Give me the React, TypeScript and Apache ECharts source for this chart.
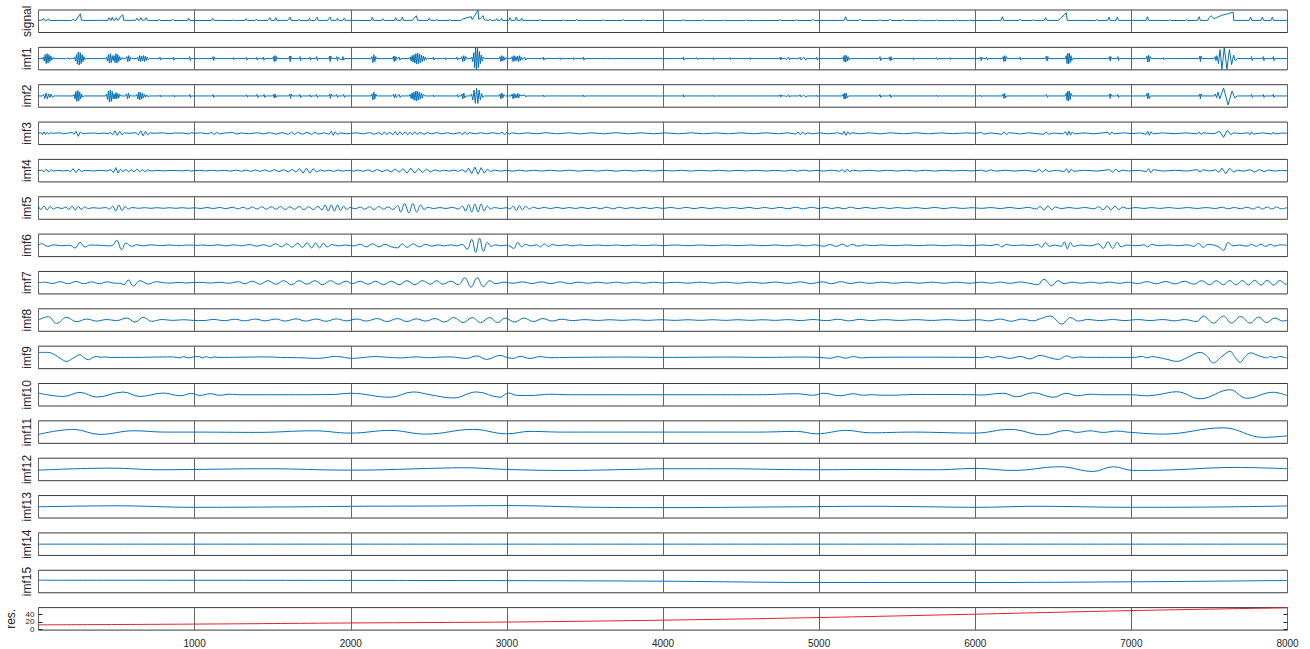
import React, { useEffect, useRef } from 'react';
import * as echarts from 'echarts';

// ---------- labels / ticks ----------
const PANEL_LABELS = ['signal', 'imf1', 'imf2', 'imf3', 'imf4', 'imf5', 'imf6', 'imf7', 'imf8', 'imf9', 'imf10', 'imf11', 'imf12', 'imf13', 'imf14', 'imf15', 'res.'];
const X_TICK_LABELS = [1000, 2000, 3000, 4000, 5000, 6000, 7000, 8000];
const RES_TICKS = [0, 20, 40];

// ---------- series values: flat [x, y, x, y, ...] ----------
const SIGNAL = [
  0,0.3, 22,0.5, 32,2.5, 40,0.3, 56,0.5, 64,2, 72,0.2, 150,0.3, 212,0.2, 222,1.5, 230,0.2, 240,0.5, 268,7, 275,0.5, 300,0.2, 400,0.4, 444,0.2, 452,3, 460,0.5, 466,0.5, 472,3.5, 480,0.5, 490,0.5, 498,3, 506,0.5, 512,0.5, 522,3.5, 540,6, 546,0.5, 580,0.3, 622,0.4, 630,2.5, 638,0.5, 648,0.5, 656,3, 664,0.5, 680,0.5, 690,3, 698,0.3, 766,0.2, 775,1.5, 782,0.2, 852,0.2, 860,1.5, 868,0.2, 954,0.2, 962,2.5, 970,0.2,
  1106,0.2, 1115,2.5, 1123,0.3, 1240,0.2, 1248,0.8, 1255,0.2, 1322,0.2, 1330,2, 1337,0.3, 1388,0.2, 1395,1.5, 1402,0.3, 1468,0.2, 1475,1.5, 1483,3, 1490,0.3, 1512,0.3, 1520,3, 1527,0.3, 1595,0.3, 1603,1.5, 1611,3.5, 1618,0.3, 1664,0.2, 1670,1.5, 1677,0.2, 1728,0.2, 1735,2.5, 1742,0.2, 1770,0.2, 1777,2, 1785,3.5, 1792,0.3, 1852,0.3, 1860,2, 1868,3.5, 1875,0.3, 1907,0.3, 1915,2.5, 1922,0.3, 1950,0.3, 1958,2.5, 1966,0.3,
  2130,0.2, 2138,3.5, 2146,0.3, 2198,0.2, 2205,2, 2212,0.3, 2280,0.2, 2288,3, 2296,0.3, 2322,0.3, 2330,3.5, 2338,0.3, 2396,0.3, 2405,2.5, 2420,5, 2428,0.3, 2495,0.3, 2503,2.5, 2510,0.3, 2543,0.3, 2550,1.5, 2556,0.3, 2629,0.2, 2636,1.2, 2642,0.2, 2705,0.3, 2715,1.5, 2745,3, 2772,4, 2778,1, 2790,4, 2815,10.5, 2820,1.5, 2830,2, 2848,5, 2856,0.8, 2884,0.3, 2892,1.5, 2898,0.3, 2926,0.3, 2934,2, 2940,0.3, 2958,0.3, 2966,2.5, 2972,0.3,
  3012,0.3, 3020,3, 3028,0.3, 3052,0.3, 3060,3.5, 3068,0.3, 3087,0.3, 3095,2.5, 3102,0.3, 3204,0.2, 3212,1, 3220,0.2, 3354,0.2, 3362,1, 3370,0.2, 3440,0.2, 3447,1.5, 3454,0.2, 3610,0.2, 3618,1, 3626,0.2, 3738,0.2, 3746,1, 3754,0.2, 3866,0.2, 3874,1, 3882,0.2,
  4122,0.1, 4130,0.8, 4138,0.1, 4250,0.1, 4258,0.8, 4266,0.1, 4378,0.1, 4386,0.7, 4394,0.1, 4528,0.1, 4536,0.8, 4544,0.1, 4741,0.2, 4749,1, 4757,0.2, 4848,0.2, 4856,1, 4864,0.2, 4952,0.2, 4960,1.5, 4968,0.2,
  5160,0.3, 5170,4, 5178,0.3, 5254,0.2, 5262,1.5, 5270,0.2, 5382,0.2, 5390,1, 5398,0.2, 5446,0.2, 5454,1.5, 5462,0.2, 5531,0.2, 5539,1, 5547,0.2, 5638,0.1, 5646,0.8, 5653,0.1, 5745,0.1, 5753,0.8, 5760,0.1, 5873,0.1, 5881,0.8, 5888,0.1, 5958,0.1, 5966,0.6, 5973,0.1,
  6165,0.3, 6174,4, 6182,0.3, 6279,0.2, 6287,1.5, 6294,0.2, 6364,0.2, 6372,1, 6379,0.2, 6442,0.3, 6451,3, 6459,0.3, 6530,0.3, 6545,2, 6583,8, 6589,0.3, 6770,0.2, 6778,1.5, 6785,0.2, 6848,0.3, 6857,3.5, 6865,0.3, 6901,0.3, 6910,3.5, 6918,0.3,
  7094,0.3, 7103,4, 7111,0.3, 7239,0.2, 7247,1, 7254,0.2, 7346,0.2, 7354,1, 7361,0.2, 7425,0.3, 7434,4, 7442,0.3, 7490,0.3, 7498,3, 7510,5, 7530,2, 7545,3, 7580,5.5, 7620,7, 7652,8.5, 7656,0.3, 7755,0.3, 7764,3.5, 7772,0.3, 7830,0.3, 7839,3.5, 7847,0.3, 7894,0.3, 7903,3.5, 7911,0.3, 8000,0.3,
];

const IMF1 = [
  0,0, 25,0, 31,1.5, 37,-2.5, 43,4, 49,-5, 55,5, 61,-4.5, 67,4, 73,-3, 79,2.5, 85,-1.5, 92,1, 100,0,
  180,0, 190,0.8, 196,-0.8, 202,0,
  225,0, 231,1.5, 237,-2.5, 243,4, 249,-5.5, 255,6.5, 261,-6.5, 267,6, 273,-5, 279,4, 285,-3, 291,2, 297,-1, 305,0,
  430,0, 436,1.5, 442,-2.5, 448,4, 454,-4.5, 460,5, 466,-4, 472,3, 478,-2, 484,3, 490,-4, 496,5, 502,-4.5, 508,4, 514,-3, 520,2, 526,-1.5, 534,1, 542,0,
  560,0, 566,2, 572,-3, 578,3, 584,-2.5, 590,1.5, 598,0,
  630,0, 636,1.5, 642,-2.5, 648,3, 654,-3, 660,2.5, 666,-2, 672,3, 678,-3, 684,2.5, 690,-2, 696,1.5, 702,-1, 712,0,
  774,0, 778,1.5, 782,-1.5, 786,0, 860,0, 864,1.5, 868,-1.5, 872,0, 964,0, 968,2, 972,-2, 976,0,
  1114,0, 1118,2, 1122,-2, 1126,1.5, 1130,0, 1245,0, 1248,1, 1252,-1, 1256,0, 1328,0, 1332,1.5, 1336,-1.5, 1340,0, 1393,0, 1397,1.5, 1401,-1.5, 1405,0, 1436,0, 1440,1.5, 1444,-1.5, 1448,0, 1500,0, 1505,2, 1510,-3, 1515,3, 1520,-2.5, 1525,2, 1530,0, 1604,0, 1608,2.5, 1612,-3, 1616,2.5, 1620,0, 1671,0, 1675,2, 1679,-2, 1683,0, 1735,0, 1739,1.5, 1743,-1.5, 1747,0, 1778,0, 1782,2, 1786,-2, 1790,0, 1860,0, 1864,2.5, 1868,-3, 1872,2.5, 1876,0, 1905,0, 1910,2, 1915,-2, 1920,1.5, 1925,0, 1945,-1.5, 1950,2, 1955,-1.5, 1960,0,
  2130,0, 2136,2, 2142,-4, 2148,4, 2154,-3, 2160,2, 2166,0, 2268,0, 2273,2, 2278,-3, 2283,2.5, 2288,-2, 2293,1.5, 2300,0, 2310,1.5, 2315,-1.5, 2320,0, 2375,0, 2381,1.5, 2387,-2.5, 2393,3, 2399,-3.5, 2405,4, 2411,-4.5, 2417,5, 2423,-5.5, 2429,5.5, 2435,-5, 2441,4.5, 2447,-4, 2453,3.5, 2459,-3, 2465,2.5, 2471,-2, 2477,1.5, 2483,-1, 2490,0.5, 2500,0, 2525,0, 2529,1.5, 2533,-1.5, 2537,0, 2600,0, 2604,1, 2608,-1, 2612,0, 2676,0, 2680,1.5, 2684,-1.5, 2688,0, 2706,0, 2712,2, 2718,-3, 2724,3, 2730,-2.5, 2736,2, 2744,0, 2770,0, 2776,1.5, 2782,-3, 2788,6, 2794,-9, 2800,11, 2806,-11, 2812,10.5, 2818,-9, 2824,7, 2830,-5, 2836,3.5, 2842,-2.5, 2848,1.5, 2856,0, 2950,0, 2956,2, 2962,-3, 2968,3, 2974,-2.5, 2980,2, 2986,-1.5, 2994,1, 3004,0,
  3028,0, 3034,2, 3040,-3, 3046,3, 3052,-2.5, 3058,2, 3064,-2, 3070,2.5, 3076,-3, 3082,3, 3088,-2, 3094,1.5, 3100,-1, 3108,0, 3115,1.5, 3121,-1.5, 3128,0, 3229,0, 3233,1.5, 3237,-1.5, 3241,0, 3336,0, 3340,1, 3344,-1, 3348,0, 3422,0, 3426,1, 3430,-1, 3434,0, 3486,0, 3490,1.5, 3494,-1.5, 3498,0, 3646,0, 3650,0.6, 3654,-0.6, 3658,0,
  4126,0, 4130,1.5, 4134,-1.5, 4138,0, 4212,0, 4216,1, 4220,-1, 4224,0, 4318,0, 4322,1, 4326,-1, 4330,0, 4425,0, 4429,1, 4433,-1, 4437,0, 4553,0, 4557,1, 4561,-1, 4565,0, 4745,0, 4750,1.5, 4755,-1.5, 4760,1, 4765,0, 4785,0, 4790,-1, 4805,1.5, 4810,-1.5, 4815,0, 4873,0, 4878,1.5, 4885,-1.5, 4892,0, 4900,1.5, 4915,-1.5, 4922,0, 4980,0, 4984,1.5, 4988,-1.5, 4992,0,
  5150,0, 5155,2, 5160,-3, 5165,3.5, 5170,-3.5, 5175,3, 5180,-2.5, 5185,2, 5192,-1.5, 5198,0, 5385,0, 5390,2, 5395,-2, 5400,0, 5445,0, 5450,1.5, 5455,-2, 5460,2, 5465,-1.5, 5472,0, 5599,0, 5603,1, 5607,-1, 5611,0, 5749,0, 5753,1, 5757,-1, 5761,0, 5834,0, 5838,1, 5842,-1, 5846,0,
  6028,0, 6033,1.5, 6038,-2, 6043,1.5, 6048,0, 6068,0, 6073,1.5, 6078,-1.5, 6083,0, 6174,0, 6179,2, 6184,-3, 6189,3, 6194,-2.5, 6199,2, 6206,0, 6283,0, 6287,1.5, 6291,-1.5, 6295,0, 6450,0, 6455,2.5, 6460,-2.5, 6465,2, 6470,0, 6578,0, 6583,3, 6588,-5, 6593,5.5, 6598,-5.5, 6603,5, 6608,-4, 6613,3, 6618,-2, 6625,0, 6856,0, 6860,2, 6864,-2.5, 6868,2, 6872,0, 6910,0, 6914,2, 6918,-2, 6922,0,
  7095,0, 7100,2.5, 7105,-3.5, 7110,3.5, 7115,-3, 7120,2, 7126,0, 7201,0, 7205,1, 7209,-1, 7213,0, 7434,0, 7438,2.5, 7442,-3, 7446,2.5, 7450,0, 7530,0, 7536,2, 7542,-2, 7548,3, 7558,-5, 7568,9, 7580,-10.5, 7595,11, 7612,-10.5, 7628,9, 7642,-6, 7655,3.5, 7665,-2, 7678,0, 7766,0, 7770,2, 7774,-2, 7778,0, 7841,0, 7845,2, 7849,-2, 7853,0, 7905,0, 7909,2, 7913,-2, 7917,0, 8000,0,
];

const IMF2 = [
  0,0, 25,0, 33,1.5, 41,-2.5, 49,3, 57,-3, 65,2, 73,-1.5, 81,2, 89,-1.5, 97,0,
  222,0, 228,1.5, 234,-3, 240,4.5, 246,-5.5, 252,5.5, 258,-5, 264,4, 270,-3, 276,2, 282,-1, 292,0,
  430,0, 436,2, 442,-3.5, 448,5, 454,-6, 460,6, 466,-5.5, 472,4.5, 478,-3, 484,2, 490,-3, 496,3.5, 502,-3, 508,2.5, 514,-2, 520,1.5, 528,0,
  558,0, 564,2, 570,-3, 576,3, 582,-2, 588,1, 596,0,
  625,0, 631,1.5, 637,-3, 643,4, 649,-4, 655,3.5, 661,-3, 667,2.5, 673,-2, 679,1.5, 686,-1, 694,1, 702,-1, 712,0,
  776,0, 780,1, 784,-1, 788,0, 862,0, 866,1, 870,-1, 874,0, 966,0, 970,1.5, 974,-1.5, 978,0,
  1114,0, 1118,1.5, 1122,-1.5, 1126,0, 1330,0, 1334,1.2, 1338,-1.2, 1342,0, 1395,0, 1400,1.5, 1405,-1.5, 1410,0, 1440,0, 1445,1.5, 1450,-1.5, 1455,0, 1500,0, 1505,1.5, 1510,-2, 1515,2, 1520,-1.5, 1525,0, 1605,0, 1610,2, 1615,-2.5, 1620,2, 1625,0, 1670,0, 1675,1.5, 1680,-1.5, 1685,0, 1735,0, 1740,1.2, 1745,-1.2, 1750,0, 1776,0, 1781,1.5, 1786,-1.5, 1791,0, 1860,0, 1865,2, 1870,-2.5, 1875,2, 1880,0, 1905,0, 1910,1.5, 1915,-1.5, 1920,0, 1950,0, 1955,1.5, 1960,-1.5, 1965,0,
  2130,0, 2136,2, 2142,-4, 2148,4, 2154,-3, 2160,2, 2166,0, 2268,0, 2274,1.5, 2280,-2, 2286,2, 2292,-1.5, 2298,0, 2310,1.5, 2316,-1.5, 2322,0, 2375,0, 2381,1.5, 2387,-2.5, 2393,3, 2399,-3.5, 2405,4, 2411,-4.5, 2417,5, 2423,-5, 2429,4.5, 2435,-4, 2441,3.5, 2447,-3, 2453,2.5, 2459,-2, 2465,1.5, 2475,0, 2526,0, 2530,1, 2534,-1, 2538,0, 2680,0, 2684,1.2, 2688,-1.2, 2692,0, 2706,0, 2712,2, 2718,-3, 2724,3, 2730,-2, 2738,0, 2768,0, 2774,2, 2782,-4, 2790,6, 2798,-7.5, 2806,8, 2814,-7.5, 2822,6, 2830,-4, 2838,2.5, 2846,-1.5, 2856,0, 2950,0, 2956,2, 2962,-3, 2968,3, 2974,-2, 2980,1.5, 2990,0,
  3028,0, 3034,2, 3040,-3, 3046,2.5, 3052,-2, 3058,1.5, 3064,-2, 3070,2.5, 3076,-2, 3082,1.5, 3090,0, 3115,1, 3121,-1, 3128,0, 3230,0, 3234,1, 3238,-1, 3242,0, 3486,0, 3490,1, 3494,-1, 3498,0,
  4126,0, 4130,1.2, 4134,-1.2, 4138,0, 4318,0, 4322,0.8, 4326,-0.8, 4330,0, 4745,0, 4750,1.2, 4755,-1.2, 4760,1, 4765,0, 4785,0, 4790,-1, 4805,1.2, 4810,-1.2, 4815,0, 4873,0, 4878,1.2, 4885,-1.2, 4892,0, 4900,1.2, 4915,-1.2, 4922,0, 4980,0, 4984,1, 4988,-1, 4992,0,
  5150,0, 5155,2, 5160,-3, 5165,3, 5170,-3, 5175,2.5, 5180,-2, 5188,0, 5385,0, 5390,1.5, 5395,-1.5, 5400,0, 5450,0, 5455,1.5, 5460,-1.5, 5465,0, 5750,0, 5754,0.8, 5758,-0.8, 5762,0,
  6030,0, 6035,1, 6040,-1, 6045,0, 6174,0, 6179,2, 6184,-2.5, 6189,2.5, 6194,-2, 6200,0, 6452,0, 6457,1.5, 6462,-1.5, 6467,0, 6578,0, 6583,3, 6588,-4.5, 6593,5, 6598,-5, 6603,4.5, 6608,-3.5, 6613,2.5, 6620,0, 6856,0, 6860,2, 6864,-2.5, 6868,2, 6872,0, 6910,0, 6914,1.5, 6918,-1.5, 6922,0,
  7095,0, 7100,2.5, 7105,-3, 7110,3, 7115,-2.5, 7122,0, 7434,0, 7438,2, 7442,-3, 7446,2, 7450,0, 7530,0, 7538,2, 7546,-2, 7555,4, 7566,-3, 7590,8, 7620,-9, 7645,5, 7662,-2, 7678,0, 7766,0, 7770,1.5, 7774,-1.5, 7778,0, 7841,0, 7845,1.5, 7849,-1.5, 7853,0, 7905,0, 7909,1.5, 7913,-1.5, 7917,0, 8000,0,
];

const IMF3 = [
  0,0, 15,0.8, 25,-1.5, 35,1.5, 45,-1.2, 55,1, 65,-0.8, 75,0.5, 90,0, 140,0.5, 160,-0.5, 190,0.3, 215,0.8, 228,-1, 240,2, 255,-3, 268,1.5, 280,-0.5, 300,0, 360,0.3, 380,-0.3, 420,0.3, 445,-0.5, 460,1, 475,-1.5, 490,2.5, 505,-2, 520,2, 535,-1.5, 550,0.5, 580,0, 625,0.5, 640,-1.5, 655,2.5, 670,-2.5, 685,2, 700,-1.5, 715,0.5, 740,0, 800,0.5, 830,-0.5, 870,0.3, 920,0.3, 960,-0.6, 980,0.8, 1000,0,
  1040,0.5, 1080,-0.5, 1110,0.8, 1125,-1.2, 1140,1, 1160,-0.5, 1200,0.4, 1250,0.7, 1265,-0.7, 1300,0.3, 1350,-0.5, 1400,0.6, 1440,-0.6, 1480,0.7, 1520,-0.8, 1560,0.7, 1600,-1, 1620,1.2, 1640,-1.2, 1660,1, 1690,-1, 1720,1, 1750,-1.2, 1770,1.2, 1790,-0.8, 1830,0.5, 1860,-1, 1875,2, 1888,-2, 1900,1.5, 1915,-1, 1935,0.5, 1970,-0.5, 2000,0,
  2040,0.5, 2080,-0.6, 2120,0.8, 2150,-1, 2180,0.8, 2200,-1.5, 2215,1.5, 2230,-1.2, 2250,1, 2270,-1.5, 2285,1.8, 2300,-1.8, 2315,1.5, 2330,-1.2, 2350,1.5, 2365,-1.5, 2380,1.2, 2395,-1.5, 2410,1.5, 2425,-1.2, 2445,1, 2470,-1, 2490,0.8, 2520,-0.7, 2550,0.8, 2580,-0.6, 2620,0.5, 2660,-0.6, 2700,0.8, 2715,-1.5, 2730,1.5, 2745,-1.2, 2760,0.6, 2800,-0.5, 2830,0.6, 2870,-0.5, 2910,0.6, 2950,-0.6, 2970,1.2, 2985,-1.5, 3000,1.2, 3015,-1, 3030,0.5,
  3080,-0.5, 3130,0.5, 3190,-0.5, 3250,0.6, 3320,-0.5, 3400,0.5, 3470,-0.6, 3540,0.5, 3620,-0.5, 3700,0.6, 3780,-0.5, 3860,0.5, 3940,-0.5, 4020,0.4, 4100,-0.5, 4180,0.5, 4260,-0.5, 4340,0.4, 4420,-0.5, 4500,0.5, 4580,-0.5, 4660,0.5, 4740,-0.5, 4800,0.5, 4850,-0.8, 4865,1.3, 4880,-1.5, 4895,1.5, 4910,-1.2, 4925,0.5, 4960,-0.5, 5000,0.4,
  5060,-0.5, 5120,0.5, 5150,-1, 5160,2, 5172,-2, 5184,1.5, 5196,-1, 5210,0.5, 5260,-0.5, 5320,0.5, 5390,-0.6, 5460,0.5, 5540,-0.5, 5620,0.5, 5700,-0.5, 5780,0.4, 5860,-0.4, 5940,0.4, 6000,0,
  6040,0.8, 6055,-0.8, 6100,0.4, 6170,-1, 6185,1.5, 6200,-1.2, 6215,0.6, 6290,-0.6, 6340,0.5, 6440,-1, 6455,1.5, 6470,-1, 6500,0.3, 6560,-0.5, 6580,1.5, 6590,-2, 6600,2, 6610,-1.8, 6620,1.2, 6635,-0.5, 6700,0.4, 6760,-0.5, 6850,1, 6862,-1.5, 6874,1.2, 6890,-0.5, 6950,0.5, 7000,-0.3,
  7060,0.4, 7095,-1, 7105,2, 7115,-2, 7125,1.5, 7140,-0.5, 7200,0.4, 7280,-0.4, 7350,0.4, 7420,-0.5, 7435,1.2, 7448,-1.2, 7460,0.5, 7530,-0.5, 7550,1, 7565,2, 7590,-4, 7615,3, 7638,-1.5, 7655,0.5, 7700,-0.3, 7750,0.6, 7760,-1.5, 7770,1.5, 7780,-0.8, 7840,0.5, 7900,-0.8, 7910,1.2, 7920,-0.6, 7960,0.3, 8000,0,
];

const IMF4 = [
  0,0, 20,0.5, 35,-1, 50,1.5, 65,-1.5, 80,1, 95,-0.5, 120,0.3, 160,-0.3, 190,0.3, 205,-1, 222,2, 240,-2, 258,1.5, 275,-0.8, 300,0.3, 350,-0.3, 400,0.3, 440,-0.3, 465,1, 480,-2, 495,3, 510,-2.5, 525,1.5, 540,-1, 560,1.2, 578,-1.2, 595,1, 612,-1.2, 630,1.5, 648,-1.2, 665,1, 682,-1, 700,0.8, 720,-0.3, 760,0.2, 800,-0.2, 860,0.2, 920,-0.2, 960,0.4, 975,-0.4, 1000,0,
  1030,0.3, 1070,-0.3, 1110,0.4, 1150,-0.3, 1190,0.3, 1230,-0.4, 1270,0.5, 1300,-0.6, 1330,0.6, 1360,-0.7, 1390,0.7, 1420,-0.8, 1450,0.8, 1480,-0.9, 1510,1, 1540,-1, 1570,1, 1600,-1.2, 1625,1.2, 1650,-1.5, 1672,2, 1694,-2.5, 1716,2.5, 1738,-2.5, 1760,2, 1782,-1.5, 1805,0.8, 1830,-0.5, 1860,0.5, 1890,-0.8, 1920,0.6, 1950,-0.4, 1980,0.3,
  2020,-0.5, 2050,0.6, 2080,-0.7, 2110,0.8, 2140,-1, 2170,1.2, 2200,-1, 2230,0.8, 2260,-1.2, 2285,1.5, 2310,-1.5, 2335,2, 2360,-2.5, 2385,2.5, 2410,-2.5, 2435,2.2, 2460,-2, 2485,1.5, 2510,-1.2, 2540,0.8, 2570,-0.6, 2600,0.5, 2630,-0.5, 2660,0.5, 2690,-0.6, 2715,1, 2735,-1.5, 2755,2.5, 2775,-3, 2795,3.5, 2815,-3.5, 2835,3, 2855,-2.5, 2875,1.5, 2895,-0.8, 2920,0.5, 2960,-0.5, 3000,0.3,
  3040,-0.5, 3080,0.5, 3120,-0.5, 3170,0.4, 3220,-0.4, 3280,0.4, 3340,-0.4, 3400,0.5, 3460,-0.5, 3520,0.4, 3580,-0.4, 3640,0.5, 3700,-0.5, 3760,0.4, 3820,-0.4, 3880,0.4, 3940,-0.4, 4000,0.3, 4060,-0.3, 4120,0.4, 4180,-0.4, 4240,0.3, 4300,-0.3, 4360,0.4, 4420,-0.4, 4480,0.3, 4540,-0.3, 4600,0.4, 4660,-0.4, 4720,0.3, 4780,-0.5, 4820,0.5, 4860,-0.5, 4900,0.5, 4940,-0.4, 4980,0.3,
  5030,-0.4, 5080,0.5, 5130,-0.6, 5150,1, 5165,-1.5, 5180,1.5, 5195,-1, 5215,0.5, 5260,-0.4, 5320,0.4, 5380,-0.4, 5440,0.4, 5500,-0.4, 5560,0.4, 5620,-0.4, 5680,0.4, 5740,-0.4, 5800,0.4, 5860,-0.3, 5920,0.3, 5980,-0.3,
  6040,0.5, 6070,-0.8, 6100,0.8, 6130,-0.5, 6190,0.4, 6250,-0.4, 6320,0.4, 6390,-1, 6410,1.5, 6430,-1.5, 6450,1.2, 6470,-0.8, 6520,0.4, 6570,-1, 6585,2, 6600,-2, 6615,1.5, 6630,-0.6, 6700,0.4, 6780,-0.4, 6860,1, 6880,-1.5, 6900,1.5, 6920,-1.2, 6940,0.6, 6980,-0.3,
  7050,0.3, 7095,-1, 7110,2, 7125,-2, 7140,1, 7200,-0.4, 7280,0.4, 7360,-0.4, 7420,1, 7440,-1.5, 7460,1, 7500,-0.4, 7540,0.8, 7560,-1.5, 7580,2.5, 7605,-3, 7630,2.5, 7655,-1.5, 7680,0.5, 7720,-0.5, 7760,1, 7790,-1.5, 7820,1.2, 7850,-1, 7880,0.6, 7920,-0.4, 7960,0.3, 8000,0,
];

const IMF5 = [
  0,1.5, 15,-1.5, 35,2, 55,-2, 75,1.5, 95,-1, 120,0.5, 150,-0.5, 175,1, 195,-1.5, 215,2, 235,-2, 255,1.5, 275,-1.5, 295,1, 320,-0.5, 350,0.3, 390,-0.3, 430,0.5, 455,-1, 475,2, 495,-3, 515,3, 535,-2.5, 555,1.5, 575,-1, 600,0.5, 640,-0.3, 680,0.3, 720,-0.3, 760,0.3, 800,-0.3, 840,0.3, 880,-0.3, 920,0.3, 960,-0.3, 1000,0.2,
  1040,-0.5, 1080,0.5, 1120,-0.6, 1160,0.6, 1200,-0.7, 1240,0.7, 1280,-0.8, 1310,0.8, 1340,-1, 1370,1, 1400,-1, 1430,1.2, 1460,-1.2, 1490,1.2, 1520,-1.2, 1550,1.5, 1580,-1.5, 1610,1.2, 1640,-1.2, 1670,1.5, 1700,-1.5, 1730,1.2, 1760,-1.5, 1790,1.5, 1815,-2, 1835,3, 1855,-3, 1875,3, 1895,-3, 1915,3, 1935,-2.5, 1955,2, 1975,-1.5, 1995,0.5,
  2030,-0.8, 2060,1, 2090,-1.2, 2120,1.2, 2150,-1.5, 2180,1.5, 2210,-1.2, 2240,1, 2270,-1.5, 2300,2.5, 2320,-4, 2345,4.5, 2372,-5, 2398,4.5, 2422,-4, 2448,3, 2470,-1.5, 2495,0.8, 2530,-0.6, 2570,0.5, 2610,-0.5, 2650,0.6, 2690,-1, 2715,2, 2735,-3, 2755,3.5, 2775,-4, 2795,4, 2815,-4, 2835,4, 2855,-3, 2875,2, 2895,-1, 2920,0.5, 2960,-0.5, 3000,0.3,
  3020,-1, 3040,2, 3060,-2.5, 3080,2.5, 3100,-2, 3120,1.5, 3145,-1, 3170,0.8, 3200,-0.6, 3240,0.6, 3280,-0.6, 3320,0.6, 3360,-0.5, 3400,0.5, 3440,-0.5, 3480,0.6, 3520,-0.6, 3560,0.7, 3600,-0.7, 3640,0.8, 3680,-0.8, 3720,0.8, 3760,-0.6, 3800,0.5, 3840,-0.5, 3880,0.6, 3920,-0.6, 3960,0.5, 4000,-0.4,
  4050,0.5, 4100,-0.5, 4150,0.6, 4200,-0.6, 4250,0.5, 4300,-0.5, 4350,0.4, 4400,-0.4, 4450,0.5, 4500,-0.5, 4550,0.6, 4600,-0.6, 4650,0.5, 4700,-0.5, 4750,0.6, 4800,-0.7, 4850,0.7, 4900,-0.8, 4950,0.7, 5000,-0.5,
  5040,0.8, 5080,-0.6, 5120,0.5, 5160,-0.8, 5200,0.8, 5250,-0.6, 5300,0.5, 5350,-0.5, 5400,0.5, 5450,-0.5, 5500,0.4, 5560,-0.4, 5620,0.4, 5680,-0.5, 5740,0.5, 5800,-0.5, 5860,0.4, 5920,-0.4, 5980,0.3,
  6040,-0.3, 6100,0.4, 6160,-0.5, 6220,0.5, 6280,-0.5, 6340,0.6, 6390,-1, 6415,1.5, 6440,-2, 6465,2, 6490,-1.5, 6515,1, 6550,-0.5, 6600,0.4, 6650,-0.4, 6700,0.5, 6760,-0.8, 6790,1.2, 6820,-1.8, 6845,2, 6870,-2, 6895,1.8, 6920,-1.5, 6945,1, 6975,-0.5,
  7030,0.4, 7080,-0.4, 7130,0.4, 7180,-0.4, 7240,0.4, 7300,-0.4, 7360,0.4, 7420,-0.4, 7480,0.4, 7540,-0.5, 7580,0.8, 7620,-0.8, 7660,0.6, 7700,-0.8, 7740,0.8, 7780,-1, 7810,1, 7840,-1, 7870,1, 7900,-1, 7930,1, 7960,-0.8, 8000,0.5,
];

const IMF6 = [
  0,0, 20,1.7, 60,-1, 100,0.5, 140,-0.3, 200,0, 234,-2.7, 266,3, 298,-1.7, 330,0.3, 400,0, 460,-0.5, 479,0.5, 501,5, 533,-4.3, 560,2.3, 597,-1, 630,0.6, 670,-0.5, 720,0.5, 780,-0.3, 840,0.3, 900,-0.3, 960,0.3,
  1020,0, 1060,0.3, 1100,-0.3, 1150,0.5, 1200,-0.5, 1250,0.5, 1300,-0.5, 1350,0.8, 1400,-0.8, 1440,0.6, 1480,-1, 1520,1.5, 1555,-1.5, 1590,1.5, 1625,-1.8, 1660,2, 1690,-2, 1720,2.5, 1750,-2.5, 1775,2.5, 1800,-2.5, 1825,2, 1850,-1.5, 1880,0.8, 1920,-0.5, 1960,0.3,
  2020,-0.5, 2060,1, 2100,-1.5, 2140,1.5, 2180,-1.5, 2220,1, 2260,-1.5, 2300,-2.5, 2330,1.5, 2360,-2, 2400,1.5, 2440,-1.5, 2480,1, 2520,-0.8, 2560,0.5, 2600,-0.5, 2640,0.5, 2680,-0.5, 2715,1, 2745,-4, 2775,6, 2800,-7, 2825,7, 2850,-6, 2875,3, 2900,-1, 2930,0.5, 2960,-0.5, 3000,0.3,
  3020,-1, 3045,-3, 3070,3, 3095,-1.5, 3120,1, 3150,-0.5, 3190,0.5, 3215,-1.5, 3240,1.5, 3265,-1, 3290,0.8, 3330,-0.3, 3380,0.5, 3420,-0.5, 3460,0.4, 3520,-0.3, 3580,0.3, 3640,-0.3, 3700,0.3, 3760,-0.3, 3820,0.3, 3880,-0.3, 3940,0.3, 4000,-0.2,
  4080,0.3, 4160,-0.3, 4240,0.3, 4320,-0.3, 4400,0.3, 4480,-0.3, 4560,0.3, 4640,-0.3, 4720,0.3, 4800,-0.4, 4860,0.4, 4920,-0.5, 4970,0.5,
  5030,-0.8, 5070,0.8, 5110,-1, 5150,1.2, 5180,-1, 5210,1, 5250,-0.8, 5290,0.5, 5340,-0.3, 5400,0.3, 5480,-0.3, 5560,0.3, 5640,-0.3, 5720,0.3, 5800,-0.3, 5880,0.3, 5960,-0.3,
  6050,0.3, 6100,-0.3, 6140,1, 6170,-1.5, 6200,1, 6240,-0.3, 6300,0.3, 6360,-0.3, 6400,1, 6425,-2, 6450,3, 6475,-1, 6510,0.3, 6550,-1, 6570,3.5, 6590,-3.5, 6610,3, 6630,-1, 6680,0.3, 6740,-0.5, 6790,1.5, 6820,-3, 6850,3.5, 6880,-3, 6910,3, 6935,-1.5, 6970,0.3,
  7040,-0.3, 7080,0.5, 7105,-1.5, 7130,1, 7170,-0.3, 7240,0.3, 7300,-0.3, 7360,0.5, 7400,-1, 7430,2, 7460,-2, 7490,1, 7520,0.5, 7560,-1.5, 7590,-5, 7620,3, 7650,-0.5, 7690,0.3, 7740,-0.8, 7770,1, 7800,-1, 7830,1.2, 7860,-1, 7890,1, 7920,-0.8, 7950,0.5, 8000,0,
];

const IMF7 = [
  0,0, 40,0.5, 90,-0.8, 140,1, 190,-1, 240,1.2, 290,-1, 340,0.8, 390,-1, 440,0.8, 490,-0.5, 520,-0.5, 548,-2, 575,2.7, 607,-3.3, 650,2, 703,-1.3, 757,1, 800,0, 850,-0.3, 900,0.3, 950,-0.3, 990,0.2,
  1040,0.3, 1100,-0.3, 1160,0.4, 1220,-0.5, 1280,1, 1320,-1, 1370,1.5, 1420,-1.5, 1470,2, 1520,-1.5, 1570,2, 1620,-2, 1670,2, 1720,-1.5, 1770,2, 1820,-2, 1870,2, 1920,-1.5, 1970,1.5,
  2010,-1, 2060,1.5, 2110,-1.5, 2160,1.5, 2210,-2, 2260,1.5, 2310,-2, 2360,2, 2410,-2, 2460,2, 2510,-1.5, 2550,2, 2590,-1.5, 2640,1.5, 2690,-2, 2730,5, 2770,-4.5, 2810,5, 2850,-4, 2890,2, 2930,-1, 2980,0.5,
  3040,-0.5, 3100,0.8, 3160,-0.8, 3220,0.8, 3280,-0.8, 3340,0.8, 3400,-0.8, 3460,0.5, 3520,-0.5, 3580,0.5, 3640,-0.5, 3700,0.5, 3760,-0.5, 3820,0.5, 3880,-0.5, 3940,0.5,
  4000,-0.3, 4080,0.4, 4160,-0.4, 4240,0.5, 4320,-0.5, 4400,0.5, 4480,-0.5, 4560,0.5, 4640,-0.5, 4720,0.6, 4800,-0.6, 4880,0.8, 4950,-0.8,
  5020,0.8, 5080,-1, 5140,1, 5200,-0.8, 5260,0.6, 5320,-0.6, 5400,0.5, 5480,-0.5, 5560,0.5, 5640,-0.5, 5720,0.5, 5800,-0.5, 5880,0.5, 5960,-0.5,
  6040,0.5, 6100,-0.5, 6160,0.6, 6220,-0.6, 6290,0.7, 6350,-0.7, 6400,-2, 6440,3.5, 6490,-3, 6530,2, 6570,-1, 6620,0.5, 6680,-0.5, 6740,0.5, 6800,-0.5, 6860,0.6, 6920,-0.6, 6980,0.5,
  7040,-0.8, 7100,1, 7160,-1, 7220,1.2, 7280,-1.2, 7340,1.5, 7400,-1.5, 7450,2, 7500,-2, 7545,2, 7590,-2, 7630,2.2, 7670,-2.2, 7710,2.2, 7750,-2.2, 7790,2.5, 7830,-2.5, 7870,2.5, 7910,-2.5, 7950,2.2, 7990,-1.5, 8000,-1,
];

const IMF8 = [
  0,0, 63,3.3, 116,-3.3, 180,2.7, 244,-1.7, 308,1, 372,-1, 436,0.5, 500,-0.5, 565,2, 618,-2, 671,2.7, 725,-1.3, 790,0.5, 860,-0.3, 930,0.3, 990,-0.3,
  1060,-0.5, 1120,0.6, 1190,-0.6, 1260,0.8, 1320,-0.8, 1390,1, 1450,-0.8, 1520,1, 1580,-1, 1650,1.2, 1710,-1, 1780,1, 1840,-1.2, 1910,1.2, 1970,-0.8,
  2040,1, 2100,-1, 2170,1.5, 2230,-1.5, 2300,1.5, 2360,-1.5, 2420,1.2, 2480,-1, 2540,1.5, 2600,-2, 2660,2.5, 2720,-2.5, 2780,2.5, 2830,-2.5, 2890,2.5, 2940,-2.5, 2990,2,
  3050,-2, 3110,2, 3170,-1.5, 3230,1.5, 3290,-1, 3350,0.8, 3420,-0.5, 3500,0.4, 3580,-0.4, 3660,0.3, 3740,-0.3, 3820,0.3, 3900,-0.3, 3980,0.3,
  4080,-0.3, 4160,0.3, 4240,-0.3, 4320,0.3, 4400,-0.3, 4480,0.3, 4560,-0.3, 4640,0.3, 4720,-0.3, 4800,0.4, 4880,-0.5, 4960,0.5,
  5050,-0.6, 5120,0.8, 5190,-0.8, 5260,0.6, 5330,-0.5, 5420,0.4, 5520,-0.4, 5620,0.4, 5720,-0.4, 5820,0.4, 5920,-0.4,
  6020,0.3, 6090,-0.8, 6160,1, 6230,-1.2, 6300,1, 6370,-0.8, 6420,1.5, 6480,4, 6555,-4, 6610,2.5, 6660,-1, 6720,0.5, 6800,-0.5, 6880,0.5, 6960,-0.5,
  7040,0.5, 7120,-0.5, 7200,0.5, 7280,-0.8, 7340,0.5, 7420,-1.5, 7460,4, 7525,-3, 7590,4, 7640,-3, 7700,3.5, 7760,-3, 7815,3, 7865,-2.5, 7920,2, 7970,-1, 8000,0,
];

const IMF9 = [
  0,5, 60,5, 100,3, 140,-1, 180,-4, 220,-1, 266,2.7, 290,0, 319,-2.3, 350,0, 373,1, 400,0, 420,0.5, 450,0, 600,0, 864,0.5, 900,-0.5, 930,0.8, 960,-0.5, 992,0.5,
  1030,0.8, 1050,-0.5, 1075,0.8, 1100,-0.5, 1125,0.5, 1150,0, 1300,0.2, 1450,0.5, 1550,0, 1700,-0.5, 1780,-1, 1850,0, 1900,1, 1960,0, 2000,-1,
  2060,-0.5, 2150,0.8, 2250,0, 2320,-0.5, 2420,0.5, 2500,-0.3, 2571,0.3, 2636,0.5, 2742,-1, 2806,1.5, 2870,-2, 2956,2, 2999,0,
  3041,-1, 3084,1, 3148,-1, 3212,0.8, 3276,-0.3, 3400,0, 3789,0.3, 4000,0, 4429,0.3, 4643,0, 4856,0.3, 5000,0,
  5070,-0.8, 5120,0.8, 5170,-0.8, 5220,0.8, 5270,-0.5, 5320,0, 5600,0.2, 6000,0,
  6040,-0.3, 6073,1, 6110,-0.5, 6150,1, 6223,-1, 6287,1, 6350,-1.5, 6415,2, 6470,0, 6532,-2, 6585,1.5, 6628,-0.5, 6670,0.5, 6713,0, 6800,0, 7000,0,
  7040,0.3, 7070,1, 7100,-0.5, 7130,0.8, 7170,0, 7230,-2, 7290,-4, 7360,0, 7440,5, 7480,2, 7525,-5.5, 7580,1, 7632,6, 7665,0, 7696,-5, 7730,1, 7765,4.5, 7810,2, 7850,0, 7866,-0.5, 7890,1, 7920,-0.5, 7950,1, 7980,0, 8000,-0.5,
];

const IMF10 = [
  0,1.7, 159,-1.7, 266,2.3, 373,-2.3, 543,2.7, 650,-1.7, 800,1.7, 906,-1, 981,1.3, 1034,-0.7, 1099,1, 1162,-0.5, 1226,0.5, 1290,0, 1600,0, 1888,0.3,
  2000,1.5, 2251,-2.5, 2401,2.8, 2508,0, 2657,-3.2, 2806,2.8, 2956,-2.5, 3009,1.8, 3060,-0.5, 3148,-0.8, 3276,0.5, 3400,0, 4000,0, 4600,0,
  4856,1, 4963,-0.5, 5027,1.5, 5134,-1, 5219,1, 5283,-0.5, 5326,0, 5433,-0.5, 5646,0.3, 6000,0,
  6030,-0.3, 6180,1.5, 6265,-2, 6372,2, 6500,-2.5, 6585,1.5, 6650,-1, 6735,0.5, 6820,0, 6995,0,
  7098,-1, 7180,0.3, 7290,3, 7440,-4, 7632,5, 7738,-3.5, 7909,2.5, 8000,-1,
];

const IMF11 = [
  0,-2.3, 223,2.7, 394,-2.3, 607,1.3, 820,0, 998,0, 1400,-0.3, 1760,1.3, 2000,-1, 2251,1.7, 2480,-2, 2785,2.7, 2999,-1.7, 3148,0.7, 3362,0, 4000,0, 4600,0,
  4856,0.7, 4984,-1.7, 5176,1.7, 5326,-0.7, 5600,0, 6000,-1, 6223,2.7, 6436,-2.7, 6585,1.7, 6650,-0.3, 6735,1.3, 6820,-0.3, 6905,1, 6995,-0.3,
  7205,-2, 7589,4.3, 7845,-5.3, 8000,-3.7,
];

const IMF12 = [
  0,-0.7, 458,1.3, 778,-0.3, 998,0, 1461,0.7, 2000,-0.7, 2571,1.3, 2721,1.7, 2999,0, 3362,-1, 3789,0, 4002,0.7, 4429,0.7, 4749,0, 5006,-0.3, 5326,0, 5753,-0.3,
  6000,1, 6244,-1, 6543,2.7, 6756,-2, 6884,2.7, 7012,-1, 7205,-0.7, 7674,2, 8000,0.7,
];

const IMF13 = [
  0,0, 500,1, 998,-0.5, 1700,0, 2000,0.5, 2571,0.8, 2999,1.2, 3575,-0.5, 4002,-0.8, 4856,0, 5326,0.5, 5700,0, 6000,-0.5, 6393,0.5, 6995,-0.5, 7205,-0.5, 8000,0.8,
];

const IMF14 = [0,0, 4000,0, 8000,0];

const IMF15 = [0,1.3, 2500,1, 4000,0.3, 5000,-1, 6000,-1, 7000,-0.3, 8000,1];

const RES = [0,12, 1000,14, 2000,17, 3000,19.5, 4000,24.5, 5000,31.5, 6000,40.5, 7000,50, 8000,57.5];

const PANEL_DATA = [SIGNAL, IMF1, IMF2, IMF3, IMF4, IMF5, IMF6, IMF7, IMF8, IMF9, IMF10, IMF11, IMF12, IMF13, IMF14, IMF15, RES];

function toPairs(flat: number[]): number[][] {
  const out: number[][] = [];
  for (let i = 0; i + 1 < flat.length; i += 2) out.push([flat[i], flat[i + 1]]);
  return out;
}

const FONT = "'Liberation Sans', Arial, Helvetica, sans-serif";
const TEXT = '#262626';

export default function App() {
  const ref = useRef<HTMLDivElement>(null);

  useEffect(() => {
    if (!ref.current) return;
    const chart = echarts.init(ref.current, null, { renderer: 'svg' });
    const n = PANEL_LABELS.length;
    const top0 = 10;
    const pitch = 37.35;
    const h = 22.5;
    const left = 38.5;
    const width = 1249;
    const RES_MIN = -2;
    const RES_MAX = 58;

    const grids: any[] = [];
    const xAxes: any[] = [];
    const yAxes: any[] = [];
    const series: any[] = [];

    const resLabelStyle = { show: true, fontSize: 8, lineHeight: 7, color: TEXT, fontFamily: FONT, margin: 4, hideOverlap: false };

    for (let i = 0; i < n; i++) {
      const isRes = i === n - 1;
      const isSignal = i === 0;
      grids.push({
        left, top: top0 + i * pitch, width, height: h,
        containLabel: false, outerBoundsMode: 'none',
        show: true, borderColor: '#3a3a3a', borderWidth: 1, backgroundColor: '#ffffff',
      });
      xAxes.push({
        type: 'value', gridIndex: i, min: 0, max: 8000, interval: 1000,
        axisLine: { show: false }, axisTick: { show: false },
        axisLabel: isRes
          ? { show: true, customValues: X_TICK_LABELS, formatter: (v: number) => String(v), fontSize: 10, color: TEXT, fontFamily: FONT, margin: 8, hideOverlap: false }
          : { show: false },
        splitLine: { show: true, lineStyle: { color: '#666666', width: 1 } },
      });
      yAxes.push({
        type: 'value', gridIndex: i,
        min: isRes ? RES_MIN : isSignal ? -11.8 : -11.25,
        max: isRes ? RES_MAX : isSignal ? 10.7 : 11.25,
        name: PANEL_LABELS[i], nameLocation: 'middle', nameRotate: 90,
        nameGap: isRes ? 22 : 6,
        nameTextStyle: { fontSize: 12, color: TEXT, fontFamily: FONT },
        axisLine: { show: false },
        axisTick: isRes
          ? { show: true, inside: true, length: 4, customValues: RES_TICKS, lineStyle: { color: TEXT } }
          : { show: false },
        axisLabel: isRes ? { ...resLabelStyle, customValues: [RES_TICKS[0]] } : { show: false },
        splitLine: { show: false },
      });
      series.push({
        type: 'line', xAxisIndex: i, yAxisIndex: i,
        data: toPairs(PANEL_DATA[i]),
        showSymbol: false, symbol: 'none', silent: true,
        smooth: i >= 5 ? 0.4 : false,
        lineStyle: { color: isRes ? '#e3202b' : '#0072BD', width: 1 },
        animation: false,
      });
    }
    // right-side ticks of the residual panel
    yAxes.push({
      type: 'value', gridIndex: n - 1, position: 'right', min: RES_MIN, max: RES_MAX,
      axisLine: { show: false },
      axisTick: { show: true, inside: true, length: 4, customValues: RES_TICKS, lineStyle: { color: TEXT } },
      axisLabel: { show: false }, splitLine: { show: false },
    });
    // separate label axes so that the tightly stacked residual labels are all kept
    for (let k = 1; k < RES_TICKS.length; k++) {
      yAxes.push({
        type: 'value', gridIndex: n - 1, position: 'left', min: RES_MIN, max: RES_MAX,
        axisLine: { show: false }, axisTick: { show: false }, splitLine: { show: false },
        axisLabel: { ...resLabelStyle, customValues: [RES_TICKS[k]] },
      });
    }

    chart.setOption({
      animation: false,
      backgroundColor: '#ffffff',
      grid: grids, xAxis: xAxes, yAxis: yAxes, series,
    });
    return () => chart.dispose();
  }, []);

  return (
    <div
      ref={ref}
      style={{ position: 'fixed', left: 0, top: 0, width: 1310, height: 649, background: '#ffffff' }}
    />
  );
}
